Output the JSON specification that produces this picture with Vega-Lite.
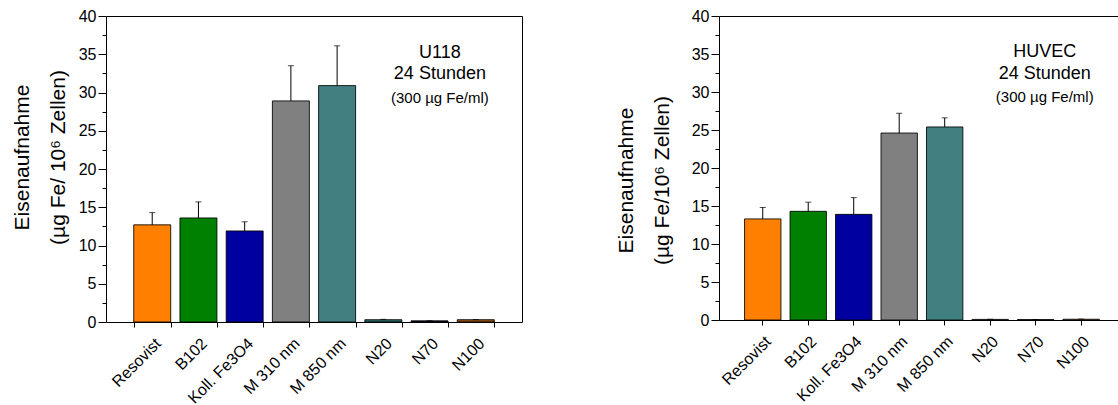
{
  "$schema": "https://vega.github.io/schema/vega-lite/v6.json",
  "background": "white",
  "padding": {"left": 10, "top": 7, "right": 0, "bottom": 0},
  "spacing": 91,
  "config": {
    "font": "Liberation Sans",
    "view": {"stroke": "#000", "strokeWidth": 1},
    "axis": {
      "labelFont": "Liberation Sans", "titleFont": "Liberation Sans",
      "labelColor": "#000", "titleColor": "#000", "domainColor": "#000", "tickColor": "#000",
      "grid": false, "labelFontSize": 16, "titleFontSize": 21, "titleFontWeight": "normal",
      "domainWidth": 1, "tickWidth": 1
    },
    "axisX": {"title": null, "labelAngle": -45, "tickSize": 5, "domain": false, "labelPadding": 8, "labelFontSize": 16}
  },
  "resolve": {"scale": {"color": "independent"}},
  "datasets": {
    "u118": [
      {"name": "Resovist", "value": 12.7, "hi": 14.3},
      {"name": "B102", "value": 13.6, "hi": 15.7},
      {"name": "Koll. Fe3O4", "value": 11.9, "hi": 13.1},
      {"name": "M 310 nm", "value": 28.9, "hi": 33.5},
      {"name": "M 850 nm", "value": 30.9, "hi": 36.1},
      {"name": "N20", "value": 0.3, "hi": 0.35},
      {"name": "N70", "value": 0.15, "hi": 0.17},
      {"name": "N100", "value": 0.3, "hi": 0.32}
    ],
    "huvec": [
      {"name": "Resovist", "value": 13.3, "hi": 14.8},
      {"name": "B102", "value": 14.3, "hi": 15.5},
      {"name": "Koll. Fe3O4", "value": 13.9, "hi": 16.1},
      {"name": "M 310 nm", "value": 24.6, "hi": 27.2},
      {"name": "M 850 nm", "value": 25.4, "hi": 26.6},
      {"name": "N20", "value": 0.08, "hi": 0.1},
      {"name": "N70", "value": 0.05, "hi": 0.07},
      {"name": "N100", "value": 0.1, "hi": 0.12}
    ],
    "noteU": [
      {"name": "N70", "y": 35.2, "text": "U118"},
      {"name": "N70", "y": 32.4, "text": "24 Stunden"}
    ],
    "noteU2": [
      {"name": "N70", "y": 29.3, "text": "(300 µg Fe/ml)"}
    ],
    "noteH": [
      {"name": "N70", "y": 35.3, "text": "HUVEC"},
      {"name": "N70", "y": 32.4, "text": "24 Stunden"}
    ],
    "noteH2": [
      {"name": "N70", "y": 29.4, "text": "(300 µg Fe/ml)"}
    ]
  },
  "hconcat": [
    {
      "width": 416, "height": 306,
      "layer": [
        {
          "data": {"name": "u118"},
          "mark": {"type": "bar", "stroke": "#000", "strokeWidth": 1, "strokeOpacity": 0.85},
          "encoding": {
            "x": {"field": "name", "type": "nominal", "sort": null,
              "scale": {"domain": ["Resovist", "B102", "Koll. Fe3O4", "M 310 nm", "M 850 nm", "N20", "N70", "N100"], "paddingInner": 0.2, "paddingOuter": 0.6},
              "axis": {"tickBand": "extent"}},
            "y": {"field": "value", "type": "quantitative",
              "scale": {"domain": [0, 40], "nice": false},
              "axis": {"title": ["Eisenaufnahme", "(µg Fe/ 10⁶ Zellen)"], "titleLineHeight": 36, "titlePadding": 10, "titleY": 141,
                "values": [0, 2.5, 5, 7.5, 10, 12.5, 15, 17.5, 20, 22.5, 25, 27.5, 30, 32.5, 35, 37.5, 40],
                "labelExpr": "datum.value % 5 === 0 ? datum.label : ''",
                "tickDash": {"condition": {"test": "datum.value % 5 !== 0", "value": [4, 20]}, "value": [20, 0]},
                "tickSize": 8, "domain": false, "labelPadding": 2}},
            "color": {"field": "name", "type": "nominal", "legend": null,
              "scale": {"domain": ["Resovist", "B102", "Koll. Fe3O4", "M 310 nm", "M 850 nm", "N20", "N70", "N100"],
                "range": ["#FF8000", "#008000", "#0000A0", "#808080", "#408080", "#306868", "#101028", "#985010"]}}
          }
        },
        {
          "data": {"name": "u118"},
          "mark": {"type": "rule", "color": "#000", "strokeWidth": 1},
          "encoding": {
            "x": {"field": "name", "type": "nominal", "sort": null, "axis": {"tickBand": "extent"}},
            "y": {"field": "value", "type": "quantitative",
              "scale": {"domain": [0, 40], "nice": false},
              "axis": {"title": ["Eisenaufnahme", "(µg Fe/ 10⁶ Zellen)"], "titleLineHeight": 36, "titlePadding": 10, "titleY": 141,
                "values": [0, 2.5, 5, 7.5, 10, 12.5, 15, 17.5, 20, 22.5, 25, 27.5, 30, 32.5, 35, 37.5, 40],
                "labelExpr": "datum.value % 5 === 0 ? datum.label : ''",
                "tickDash": {"condition": {"test": "datum.value % 5 !== 0", "value": [4, 20]}, "value": [20, 0]},
                "tickSize": 8, "domain": false, "labelPadding": 2}},
            "y2": {"field": "hi"}
          }
        },
        {
          "data": {"name": "u118"},
          "mark": {"type": "tick", "color": "#000", "thickness": 1, "size": 6},
          "encoding": {
            "x": {"field": "name", "type": "nominal", "sort": null, "axis": {"tickBand": "extent"}},
            "y": {"field": "hi", "type": "quantitative",
              "scale": {"domain": [0, 40], "nice": false},
              "axis": {"title": ["Eisenaufnahme", "(µg Fe/ 10⁶ Zellen)"], "titleLineHeight": 36, "titlePadding": 10, "titleY": 141,
                "values": [0, 2.5, 5, 7.5, 10, 12.5, 15, 17.5, 20, 22.5, 25, 27.5, 30, 32.5, 35, 37.5, 40],
                "labelExpr": "datum.value % 5 === 0 ? datum.label : ''",
                "tickDash": {"condition": {"test": "datum.value % 5 !== 0", "value": [4, 20]}, "value": [20, 0]},
                "tickSize": 8, "domain": false, "labelPadding": 2}}
          }
        },
        {
          "data": {"name": "noteU"},
          "mark": {"type": "text", "fontSize": 18, "color": "#000", "font": "Liberation Sans"},
          "encoding": {
            "x": {"field": "name", "type": "nominal", "sort": null, "bandPosition": 0.78, "axis": {"tickBand": "extent"}},
            "y": {"field": "y", "type": "quantitative",
              "scale": {"domain": [0, 40], "nice": false},
              "axis": {"title": ["Eisenaufnahme", "(µg Fe/ 10⁶ Zellen)"], "titleLineHeight": 36, "titlePadding": 10, "titleY": 141,
                "values": [0, 2.5, 5, 7.5, 10, 12.5, 15, 17.5, 20, 22.5, 25, 27.5, 30, 32.5, 35, 37.5, 40],
                "labelExpr": "datum.value % 5 === 0 ? datum.label : ''",
                "tickDash": {"condition": {"test": "datum.value % 5 !== 0", "value": [4, 20]}, "value": [20, 0]},
                "tickSize": 8, "domain": false, "labelPadding": 2}},
            "text": {"field": "text"}
          }
        },
        {
          "data": {"name": "noteU2"},
          "mark": {"type": "text", "fontSize": 15, "color": "#000", "font": "Liberation Sans"},
          "encoding": {
            "x": {"field": "name", "type": "nominal", "sort": null, "bandPosition": 0.78, "axis": {"tickBand": "extent"}},
            "y": {"field": "y", "type": "quantitative",
              "scale": {"domain": [0, 40], "nice": false},
              "axis": {"title": ["Eisenaufnahme", "(µg Fe/ 10⁶ Zellen)"], "titleLineHeight": 36, "titlePadding": 10, "titleY": 141,
                "values": [0, 2.5, 5, 7.5, 10, 12.5, 15, 17.5, 20, 22.5, 25, 27.5, 30, 32.5, 35, 37.5, 40],
                "labelExpr": "datum.value % 5 === 0 ? datum.label : ''",
                "tickDash": {"condition": {"test": "datum.value % 5 !== 0", "value": [4, 20]}, "value": [20, 0]},
                "tickSize": 8, "domain": false, "labelPadding": 2}},
            "text": {"field": "text"}
          }
        }
      ]
    },
    {
      "width": 403, "height": 304,
      "layer": [
        {
          "data": {"name": "huvec"},
          "mark": {"type": "bar", "stroke": "#000", "strokeWidth": 1, "strokeOpacity": 0.85},
          "encoding": {
            "x": {"field": "name", "type": "nominal", "sort": null,
              "scale": {"domain": ["Resovist", "B102", "Koll. Fe3O4", "M 310 nm", "M 850 nm", "N20", "N70", "N100"], "paddingInner": 0.2, "paddingOuter": 0.53, "align": 0.53}},
            "y": {"field": "value", "type": "quantitative",
              "scale": {"domain": [0, 40], "nice": false},
              "axis": {"title": ["Eisenaufnahme", "(µg Fe/10⁶ Zellen)"], "titleLineHeight": 36, "titlePadding": 19, "titleY": 164,
                "values": [0, 2.5, 5, 7.5, 10, 12.5, 15, 17.5, 20, 22.5, 25, 27.5, 30, 32.5, 35, 37.5, 40],
                "labelExpr": "datum.value % 5 === 0 ? datum.label : ''",
                "tickDash": {"condition": {"test": "datum.value % 5 !== 0", "value": [4, 20]}, "value": [20, 0]},
                "tickSize": 8, "domain": false, "labelPadding": 2}},
            "color": {"field": "name", "type": "nominal", "legend": null,
              "scale": {"domain": ["Resovist", "B102", "Koll. Fe3O4", "M 310 nm", "M 850 nm", "N20", "N70", "N100"],
                "range": ["#FF8000", "#008000", "#0000A0", "#808080", "#408080", "#C8D8D8", "#909090", "#D8A070"]}}
          }
        },
        {
          "data": {"name": "huvec"},
          "mark": {"type": "rule", "color": "#000", "strokeWidth": 1},
          "encoding": {
            "x": {"field": "name", "type": "nominal", "sort": null},
            "y": {"field": "value", "type": "quantitative",
              "scale": {"domain": [0, 40], "nice": false},
              "axis": {"title": ["Eisenaufnahme", "(µg Fe/10⁶ Zellen)"], "titleLineHeight": 36, "titlePadding": 19, "titleY": 164,
                "values": [0, 2.5, 5, 7.5, 10, 12.5, 15, 17.5, 20, 22.5, 25, 27.5, 30, 32.5, 35, 37.5, 40],
                "labelExpr": "datum.value % 5 === 0 ? datum.label : ''",
                "tickDash": {"condition": {"test": "datum.value % 5 !== 0", "value": [4, 20]}, "value": [20, 0]},
                "tickSize": 8, "domain": false, "labelPadding": 2}},
            "y2": {"field": "hi"}
          }
        },
        {
          "data": {"name": "huvec"},
          "mark": {"type": "tick", "color": "#000", "thickness": 1, "size": 6},
          "encoding": {
            "x": {"field": "name", "type": "nominal", "sort": null},
            "y": {"field": "hi", "type": "quantitative",
              "scale": {"domain": [0, 40], "nice": false},
              "axis": {"title": ["Eisenaufnahme", "(µg Fe/10⁶ Zellen)"], "titleLineHeight": 36, "titlePadding": 19, "titleY": 164,
                "values": [0, 2.5, 5, 7.5, 10, 12.5, 15, 17.5, 20, 22.5, 25, 27.5, 30, 32.5, 35, 37.5, 40],
                "labelExpr": "datum.value % 5 === 0 ? datum.label : ''",
                "tickDash": {"condition": {"test": "datum.value % 5 !== 0", "value": [4, 20]}, "value": [20, 0]},
                "tickSize": 8, "domain": false, "labelPadding": 2}}
          }
        },
        {
          "data": {"name": "noteH"},
          "mark": {"type": "text", "fontSize": 18, "color": "#000", "font": "Liberation Sans"},
          "encoding": {
            "x": {"field": "name", "type": "nominal", "sort": null, "bandPosition": 0.75},
            "y": {"field": "y", "type": "quantitative",
              "scale": {"domain": [0, 40], "nice": false},
              "axis": {"title": ["Eisenaufnahme", "(µg Fe/10⁶ Zellen)"], "titleLineHeight": 36, "titlePadding": 19, "titleY": 164,
                "values": [0, 2.5, 5, 7.5, 10, 12.5, 15, 17.5, 20, 22.5, 25, 27.5, 30, 32.5, 35, 37.5, 40],
                "labelExpr": "datum.value % 5 === 0 ? datum.label : ''",
                "tickDash": {"condition": {"test": "datum.value % 5 !== 0", "value": [4, 20]}, "value": [20, 0]},
                "tickSize": 8, "domain": false, "labelPadding": 2}},
            "text": {"field": "text"}
          }
        },
        {
          "data": {"name": "noteH2"},
          "mark": {"type": "text", "fontSize": 15, "color": "#000", "font": "Liberation Sans"},
          "encoding": {
            "x": {"field": "name", "type": "nominal", "sort": null, "bandPosition": 0.75},
            "y": {"field": "y", "type": "quantitative",
              "scale": {"domain": [0, 40], "nice": false},
              "axis": {"title": ["Eisenaufnahme", "(µg Fe/10⁶ Zellen)"], "titleLineHeight": 36, "titlePadding": 19, "titleY": 164,
                "values": [0, 2.5, 5, 7.5, 10, 12.5, 15, 17.5, 20, 22.5, 25, 27.5, 30, 32.5, 35, 37.5, 40],
                "labelExpr": "datum.value % 5 === 0 ? datum.label : ''",
                "tickDash": {"condition": {"test": "datum.value % 5 !== 0", "value": [4, 20]}, "value": [20, 0]},
                "tickSize": 8, "domain": false, "labelPadding": 2}},
            "text": {"field": "text"}
          }
        }
      ]
    }
  ]
}
